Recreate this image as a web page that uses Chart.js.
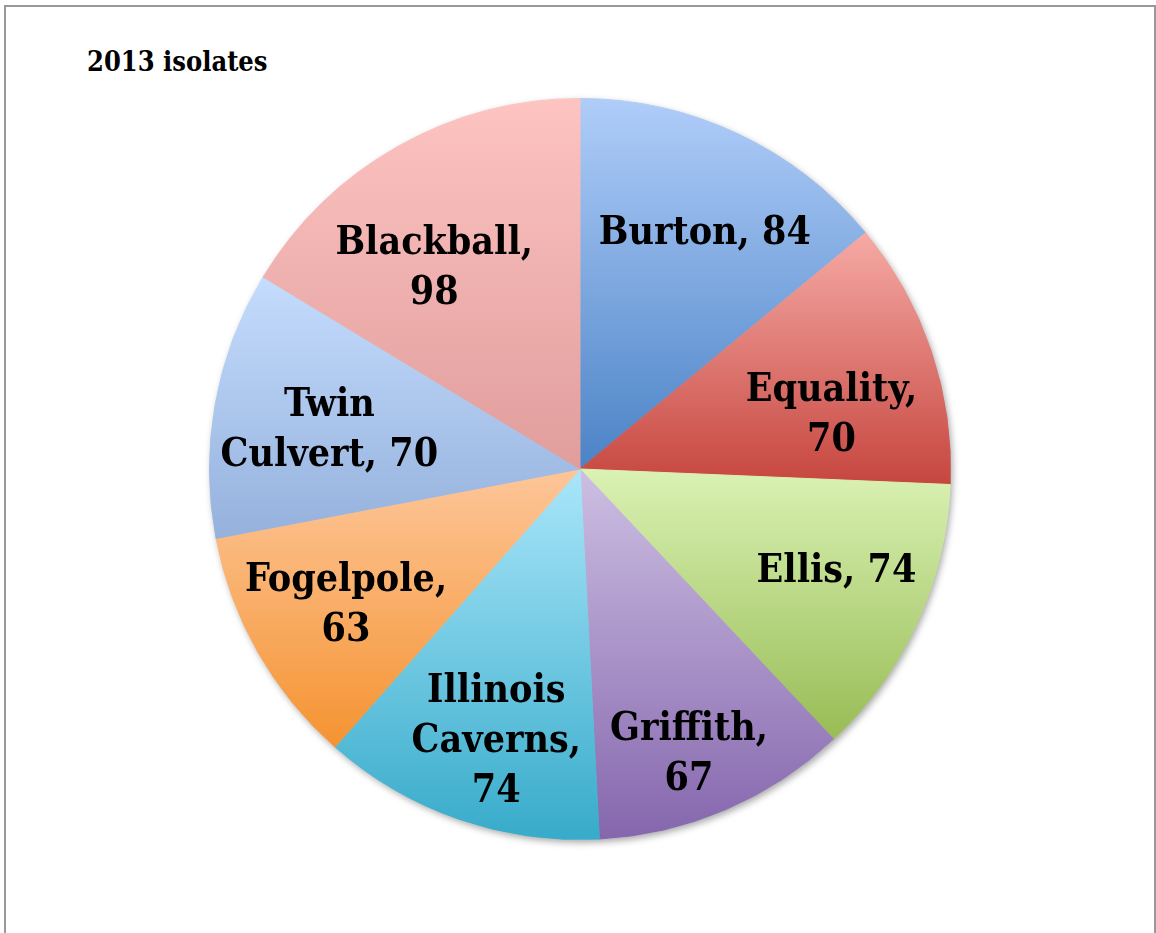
<!DOCTYPE html>
<html>
<head>
<meta charset="utf-8">
<script src="https://cdn.jsdelivr.net/npm/chart.js@4"></script>
<style>
  html, body { margin: 0; padding: 0; background: #fff; overflow: hidden; }
  #moldura {
    position: absolute; left: 4px; top: 5px;
    width: 1148px; height: 960px;
    border: 2px solid #999;
  }
  #titulo {
    position: absolute; left: 81px; top: 40px;
    font: bold 27px "DejaVu Serif Condensed", "DejaVu Serif", serif;
    line-height: 30px; color: #000;
  }
  #grafico { position: absolute; left: 0; top: 0; }
</style>
</head>
<body>
<div id="moldura">
  <div id="titulo">2013 isolates</div>
  <canvas id="grafico" width="1148" height="926"></canvas>
</div>
<script>
const locais = ["Burton", "Equality", "Ellis", "Griffith", "Illinois Caverns", "Fogelpole", "Twin Culvert", "Blackball"];
const isolados = [84, 70, 74, 67, 74, 63, 70, 98];
const rotulos = [
  ["Burton, 84"],
  ["Equality,", "70"],
  ["Ellis, 74"],
  ["Griffith,", "67"],
  ["Illinois", "Caverns,", "74"],
  ["Fogelpole,", "63"],
  ["Twin", "Culvert, 70"],
  ["Blackball,", "98"]
];
const corTopo = ["#b0cdf9", "#f6aaa5", "#daf2b4", "#cdbfe2", "#aae6fa", "#fdc699", "#c4dcfd", "#fdc4c1"];
const corBase = ["#4b83c6", "#c6463f", "#98bc55", "#8566ad", "#37abca", "#f59331", "#95b1dc", "#e09d9c"];

// posição dos rótulos: fração do raio e desvio do ângulo médio (graus)
const raioRotulo = [0.727, 0.696, 0.742, 0.817, 0.760, 0.727, 0.686, 0.676];
const desvioRotulo = [2.4, 5.8, -3.5, 2.0, -1.9, 0, -0.7, -6.2];

const fonteRotulo = "bold 39px 'DejaVu Serif Condensed', 'DejaVu Serif', serif";

// gradiente vertical por fatia, do topo ao fundo da caixa da fatia
function gradienteFatia(context) {
  const chart = context.chart;
  const area = chart.chartArea;
  const i = context.dataIndex;
  if (!area) return corTopo[i];
  const dados = context.dataset.data;
  const total = dados.reduce((a, b) => a + b, 0);
  let antes = 0;
  for (let k = 0; k < i; k++) antes += dados[k];
  const a0 = -Math.PI / 2 + antes / total * 2 * Math.PI;
  const a1 = a0 + dados[i] / total * 2 * Math.PI;
  const cy = (area.top + area.bottom) / 2;
  const r = Math.min(area.right - area.left, area.bottom - area.top) / 2;
  const ys = [cy, cy + r * Math.sin(a0), cy + r * Math.sin(a1)];
  for (let k = -2; k <= 3; k++) {
    const t = Math.PI / 2 + k * Math.PI;
    if (t > a0 && t < a1) ys.push(cy + r * Math.sin(t));
  }
  const g = chart.ctx.createLinearGradient(0, Math.min(...ys), 0, Math.max(...ys));
  g.addColorStop(0, corTopo[i]);
  g.addColorStop(1, corBase[i]);
  return g;
}

const sombra = {
  id: "sombra",
  beforeDatasetsDraw(chart) {
    const arco = chart.getDatasetMeta(0).data[0];
    if (!arco) return;
    const ctx = chart.ctx;
    ctx.save();
    ctx.shadowColor = "rgba(0,0,0,0.35)";
    ctx.shadowBlur = 7;
    ctx.shadowOffsetX = 2;
    ctx.shadowOffsetY = 3;
    ctx.fillStyle = "#fff";
    ctx.beginPath();
    ctx.arc(arco.x, arco.y, arco.outerRadius, 0, Math.PI * 2);
    ctx.fill();
    ctx.restore();
  }
};

const etiquetas = {
  id: "etiquetas",
  afterDatasetsDraw(chart) {
    const ctx = chart.ctx;
    ctx.save();
    ctx.font = fonteRotulo;
    ctx.fillStyle = "#000";
    ctx.textAlign = "center";
    ctx.textBaseline = "alphabetic";
    chart.getDatasetMeta(0).data.forEach((arco, i) => {
      const meio = (arco.startAngle + arco.endAngle) / 2 + desvioRotulo[i] * Math.PI / 180;
      const r = arco.outerRadius * raioRotulo[i];
      const x = arco.x + Math.cos(meio) * r;
      const y = arco.y + Math.sin(meio) * r;
      const linhas = rotulos[i];
      const altura = 50;
      linhas.forEach((txt, j) => {
        const yc = y + (j - (linhas.length - 1) / 2) * altura;
        ctx.fillText(txt, x, yc + 14);
      });
    });
    ctx.restore();
  }
};

new Chart(document.getElementById("grafico"), {
  type: "pie",
  data: {
    labels: locais,
    datasets: [{
      data: isolados,
      backgroundColor: gradienteFatia,
      borderColor: gradienteFatia,
      borderWidth: 1
    }]
  },
  options: {
    responsive: false,
    animation: false,
    devicePixelRatio: 1,
    layout: { padding: { left: 203, right: 203, top: 91, bottom: 93 } },
    plugins: {
      legend: { display: false },
      tooltip: { enabled: false },
      title: { display: false }
    }
  },
  plugins: [sombra, etiquetas]
});
</script>
</body>
</html>
